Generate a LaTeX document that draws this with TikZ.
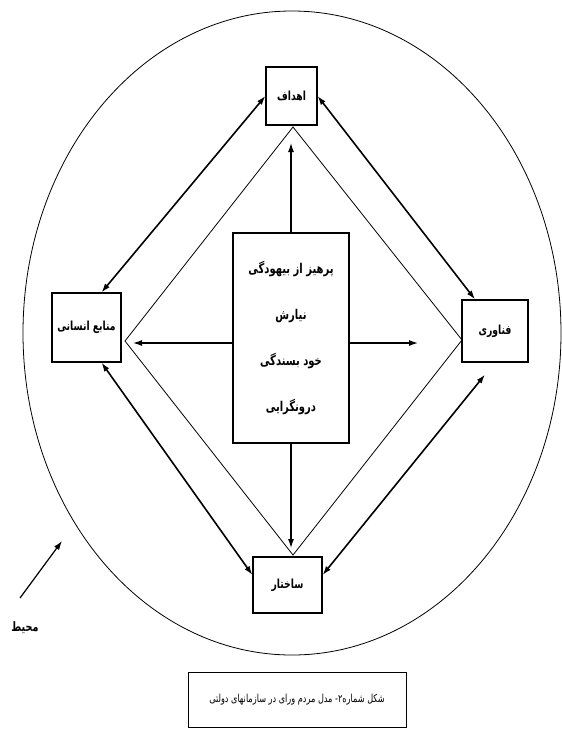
\documentclass[tikz,border=0pt]{standalone}
\usepackage{fontspec}
\newfontfamily\arabicfont[Script=Arabic, FakeStretch=0.74]{DejaVu Sans}
\TeXXeTstate=1
\usetikzlibrary{arrows.meta,positioning,calc}
\newcommand{\fa}[1]{{\arabicfont\beginR #1\endR}}

\begin{document}
\begin{tikzpicture}[x=1pt, y=-1pt,
  bbox/.style={rectangle, draw, line width=1.2pt, fill=white, inner sep=0pt,
               font=\bfseries\fontsize{12.5}{14}\selectfont, align=center},
  capbox/.style={rectangle, draw, line width=1pt, fill=white, inner sep=0pt,
               font=\fontsize{11}{13}\selectfont, align=center},
  barr/.style={{Latex[length=9pt,width=6pt]}-{Latex[length=9pt,width=6pt]}, line width=1.6pt},
  carr/.style={-{Latex[length=9pt,width=6pt]}, line width=1.2pt},
  thin line/.style={line width=0.8pt}
]
\useasboundingbox (0,0) rectangle (562,729);

% Environment
\draw[thin line] (292,333) ellipse [x radius=269, y radius=322];

% Diamond
\coordinate (dT) at (293,127);
\coordinate (dL) at (125,341);
\coordinate (dR) at (462,340);
\coordinate (dB) at (293,555);
\draw[thin line] (dT) -- (dR) -- (dB) -- (dL) -- cycle;

% Boxes
\node[bbox, minimum width=51pt, minimum height=58pt] (goals)  at (291.5,96)  {\fa{اهداف}};
\node[bbox, minimum width=69pt, minimum height=69pt] (hr)     at (86.5,327.5) {\fa{منابع انسانی}};
\node[bbox, minimum width=66pt, minimum height=62pt] (tech)   at (495,331)   {\fa{فناوری}};
\node[bbox, minimum width=69pt, minimum height=56pt] (struct) at (287.5,585)  {\fa{ساختار}};

\node[bbox, minimum width=116pt, minimum height=210pt,
      font=\bfseries\fontsize{13.5}{46}\selectfont] (core) at (291,338)
  {\fa{پرهیز از بیهودگی}\\\fa{نیارش}\\\fa{خود بسندگی}\\\fa{درونگرایی}};

% Arrows between boxes
\draw[barr] (goals.west) -- ($(hr.north)+(15,0)$);
\draw[barr] (goals.east) -- ($(tech.north)+(-20,0)$);
\draw[barr] ($(hr.south)+(15,0)$) -- ($(struct.west)+(0,-10)$);
\draw[barr] ($(struct.east)+(0,-10)$) -- ($(tech.south)+(-10,12)$);

% Arrows from the centre
\coordinate (aT) at (291,143);
\coordinate (aB) at (291,548);
\coordinate (aL) at (133,343);
\coordinate (aR) at (418,343);
\draw[carr] (core.north) -- (aT);
\draw[carr] (core.south) -- (aB);
\draw[carr] (aL -| core.west) -- (aL);
\draw[carr] (aR -| core.east) -- (aR);

% Label
\node[font=\bfseries\fontsize{13}{14}\selectfont] (env) at (25,628) {\fa{محیط}};
\coordinate (envtail) at (20,598);
\coordinate (envtip) at (62,541);
\draw[carr] (envtail) -- (envtip);

% Caption
\node[capbox, minimum width=218pt, minimum height=55pt] (cap) at (297,699.5)
  {\fa{شکل شماره۲- مدل مردم ورای در سازمانهای دولتی}};
\end{tikzpicture}
\end{document}
